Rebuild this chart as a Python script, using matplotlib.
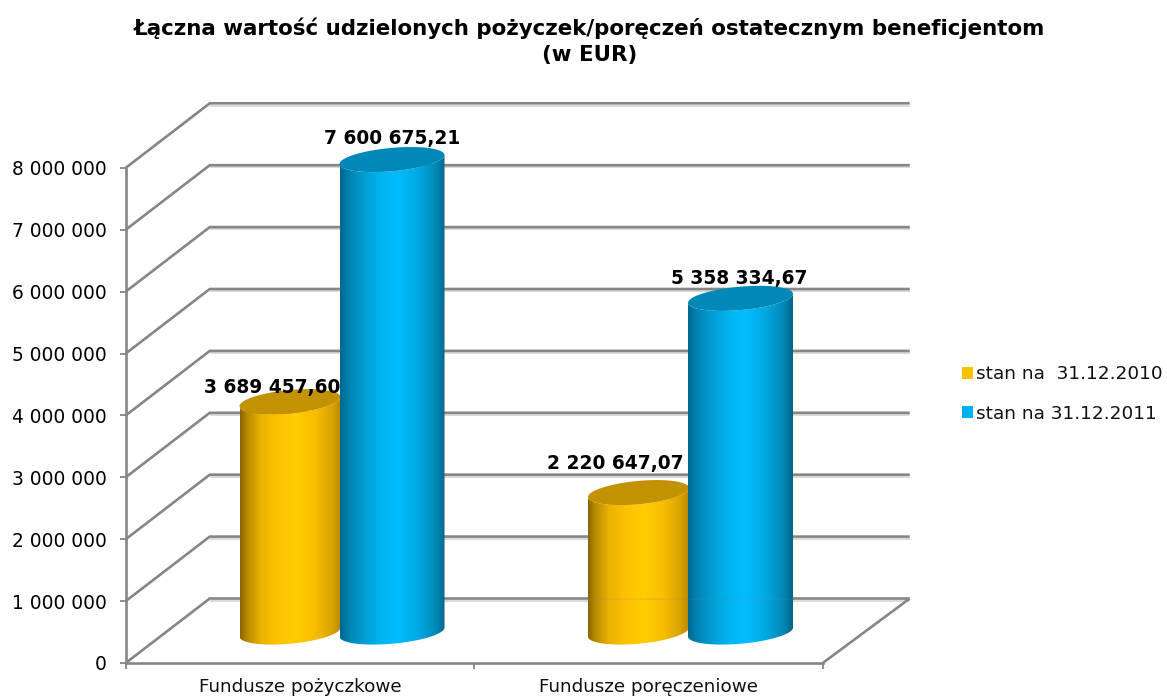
import numpy as np
import matplotlib
matplotlib.use("Agg")
import matplotlib.pyplot as plt
from matplotlib.patches import Polygon, Patch
from matplotlib.transforms import ScaledTranslation
from matplotlib.colors import LinearSegmentedColormap

plt.rcParams['font.family'] = ['DejaVu Sans']

title = "Łączna wartość udzielonych pożyczek/poręczeń ostatecznym beneficjentom\n(w EUR)"
categories = ["Fundusze pożyczkowe", "Fundusze poręczeniowe"]
series_names = ["stan na  31.12.2010", "stan na 31.12.2011"]
values_2010 = [3689457.60, 2220647.07]
values_2011 = [7600675.21, 5358334.67]
labels_2010 = ["3 689 457,60", "2 220 647,07"]
labels_2011 = ["7 600 675,21", "5 358 334,67"]
y_ticks = [0, 1e6, 2e6, 3e6, 4e6, 5e6, 6e6, 7e6, 8e6]
y_tick_labels = ["0", "1 000 000", "2 000 000", "3 000 000", "4 000 000",
                 "5 000 000", "6 000 000", "7 000 000", "8 000 000"]

W, H = 1167, 698
fig = plt.figure(figsize=(W / 100, H / 100), dpi=100, facecolor="white")
ax = fig.add_axes([0, 0, 1, 1])

# scale: px per category and per unit of value
PX_X = 348.5
PX_Y = 61.9 / 1e6
X0 = 300.0   # pixel of category 0
Y0 = 663.0   # pixel of value 0
xlim = ((0 - X0) / PX_X, (W - X0) / PX_X)
ylim = ((Y0 - H) / PX_Y, Y0 / PX_Y)
ax.set_facecolor("none")

GRID = "#868686"
SHADOW = "#d4d4d4"
LW = 1.9
DX = 84 / PX_X      # depth of the floor in x units
DY = 64.5 / PX_Y    # depth of the floor in y units
END = 1.5 + 87 / PX_X

shadow_tr = ax.transData + ScaledTranslation(0, -2.2 / 100, fig.dpi_scale_trans)
for v in y_ticks:
    xs = [-0.5, -0.5 + DX, END]
    ys = [v, v + DY, v + DY]
    ax.plot(xs[1:], ys[1:], color=SHADOW, lw=1.2, transform=shadow_tr, zorder=1, solid_capstyle="butt")
    ax.plot(xs, ys, color=GRID, lw=LW, zorder=2, solid_joinstyle="miter", solid_capstyle="butt")
# right floor edge
ax.plot([1.5, END], [0, DY], color=GRID, lw=LW, zorder=2, solid_capstyle="butt")

# axes
for s in ["top", "right"]:
    ax.spines[s].set_visible(False)
ax.spines["left"].set_position(("data", -0.5))
ax.spines["bottom"].set_position(("data", 0))
ax.spines["left"].set_bounds(0, 8e6)
ax.spines["bottom"].set_bounds(-0.5, 1.5)
for s in ["left", "bottom"]:
    ax.spines[s].set_color(GRID)
    ax.spines[s].set_linewidth(LW)
    ax.spines[s].set_zorder(3)
ax.set_yticks(y_ticks)
ax.set_yticklabels(y_tick_labels, fontsize=13.4, color="black")
ax.tick_params(axis="y", length=4.5, width=1.3, color=GRID, pad=9.2)
ax.set_xticks([-0.5, 0.5, 1.5])
ax.set_xticklabels(["", "", ""])
ax.tick_params(axis="x", which="major", length=4.5, width=1.3, color=GRID)
ax.set_xticks([0, 1], minor=True)
ax.set_xticklabels(categories, minor=True, fontsize=13.2, color="#111111")
ax.tick_params(axis="x", which="minor", length=0, pad=10.5)

# cylinders
cmap_orange = LinearSegmentedColormap.from_list("o", [
    (0, "#8a6600"), (0.07, "#b88a00"), (0.2, "#e8b000"), (0.35, "#fdc000"),
    (0.55, "#ffcd00"), (0.75, "#f8bd00"), (0.92, "#d8a200"), (1, "#b88a00")])
cmap_blue = LinearSegmentedColormap.from_list("b", [
    (0, "#006890"), (0.08, "#0082b0"), (0.25, "#00a2d8"), (0.4, "#00b6f2"),
    (0.55, "#00bcff"), (0.75, "#00a8e0"), (0.92, "#0086b4"), (1, "#006288")])
grad = np.linspace(0, 1, 256).reshape(1, -1)

BASE_FRAC = 0.48
base = BASE_FRAC * DY
x_shift = 41 / PX_X
TOP_LIFT = 2 / PX_Y


def ellipse(cx, cy, a, t):
    b = 11.7 / PX_Y
    s = 4.5 / PX_Y
    return cx + a * np.cos(t), cy + b * np.sin(t) + s * np.cos(t)


def cylinder(cat, offset, half_w, value, cmap, top_color, zorder):
    cx = cat + x_shift + offset
    a = half_w / PX_X
    cy0 = base
    cy1 = base + value + TOP_LIFT
    t = np.linspace(np.pi, 2 * np.pi, 60)
    xb, yb = ellipse(cx, cy0, a, t)
    xt, yt = ellipse(cx, cy1, a, t[::-1])
    poly = Polygon(np.column_stack([np.r_[xb, xt], np.r_[yb, yt]]), closed=True,
                   transform=ax.transData, facecolor="none", edgecolor="none")
    ax.add_patch(poly)
    im = ax.imshow(grad, extent=[cx - a, cx + a, cy0 - 20 / PX_Y, cy1 + 20 / PX_Y],
                   aspect="auto", cmap=cmap, zorder=zorder, interpolation="bilinear",
                   origin="lower")
    im.set_clip_path(poly)
    t2 = np.linspace(0, 2 * np.pi, 120)
    xe, ye = ellipse(cx, cy1, a, t2)
    ax.fill(xe, ye, color=top_color, lw=0, zorder=zorder + 0.1)


for i in range(2):
    cylinder(i, -51 / PX_X, 50.5, values_2010[i], cmap_orange, "#c29200", 4)
for i in range(2):
    cylinder(i, 51 / PX_X, 52.5, values_2011[i], cmap_blue, "#0088b8", 5)

# the floor-level gridline shows faintly through the second pair of cylinders
ax.plot([1 + x_shift - 101 / PX_X, 1 + x_shift + 103 / PX_X], [DY, DY], color=GRID,
        lw=1.2, alpha=0.15, zorder=6, solid_capstyle="butt")

ax.set_xlim(*xlim)
ax.set_ylim(*ylim)

# data labels
label_kw = dict(ha="center", va="center", fontsize=13.4, fontweight="bold",
                color="black", zorder=8, textcoords="offset pixels")
for i, (lab, off) in enumerate(zip(labels_2010, [(-18, 16), (-23, 31)])):
    ax.annotate(lab, (i + x_shift - 51 / PX_X, base + values_2010[i]), xytext=off, **label_kw)
for i, (lab, off) in enumerate(zip(labels_2011, [(0, 23), (-1, 22)])):
    ax.annotate(lab, (i + x_shift + 51 / PX_X, base + values_2011[i]), xytext=off, **label_kw)

# title
fig.text(590 / W, 1 - 41 / H, title, ha="center", va="center", fontsize=15.4,
         fontweight="bold", color="black", linespacing=1.38)

# legend
handles = [Patch(facecolor="#ffc000", edgecolor="none"), Patch(facecolor="#00b0f0", edgecolor="none")]
leg = fig.legend(handles, series_names, loc="center left",
                 bbox_to_anchor=(962 / W, 1 - 394 / H), frameon=False,
                 fontsize=13.3, handlelength=0.6, handleheight=0.6, handletextpad=0.15,
                 labelspacing=1.15, borderpad=0, borderaxespad=0, labelcolor="#111111")

fig.savefig("out.png", dpi=100, facecolor="white")
